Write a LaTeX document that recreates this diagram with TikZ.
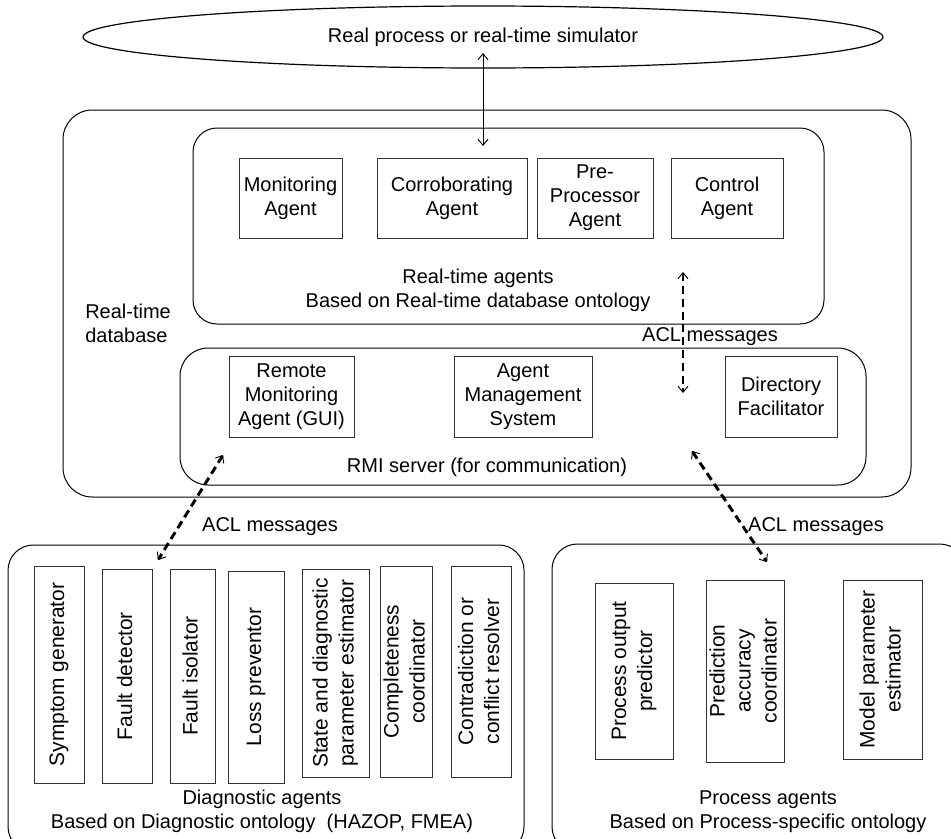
\documentclass[tikz,border=0pt]{standalone}
\usepackage{fontspec}
\usepackage{graphicx}
\setmainfont{Liberation Sans}
\usetikzlibrary{arrows.meta,shapes.geometric}
\newcommand\VertLab[1]{\rotatebox{90}{\fontsize{15.7}{19.5}\selectfont\begin{tabular}{@{}c@{}}#1\end{tabular}}}
\tikzset{
  tipA/.tip={Straight Barb[length=4.5pt,width=7.5pt,line width=0.7pt]},
  txt/.style={font=\fontsize{15}{18}\selectfont, align=center, inner sep=0pt},
  spanbox/.style n args={4}{minimum width={(#3-#1)*0.75pt}, minimum height={(#4-#2)*0.75pt}, at={({(#1+#3)/2},{(#2+#4)/2})}, anchor=center},
  agent/.style={txt, draw=black!80, line width=0.7pt, inner sep=0pt},
  group/.style={draw=black, line width=0.75pt, inner sep=0pt},
  link/.style={line width=0.75pt, tipA-tipA},
  acl/.style={line width=2.2pt, dash pattern=on 6pt off 3.6pt, tipA-tipA}
}
\begin{document}
\begin{tikzpicture}[x=0.75pt,y=-0.75pt]
\useasboundingbox (0,0) rectangle (951,839);
\clip (0,0) rectangle (951,839);

% simulator
\node[txt, draw, ellipse, line width=0.9pt, minimum width=600pt, minimum height=46.5pt] (sim) at (483,37) {Real process or real-time simulator};

% real-time database
\node[group, rounded corners=22pt, spanbox={63}{110}{911}{497}] (db) {};
\node[txt, anchor=west, align=left] (dblbl) at (85,323.5) {Real-time\\database};

% real-time agents
\node[group, rounded corners=18pt, spanbox={193}{128}{824}{324}] (rta) {};
\node[txt] (rtalbl) at (478,290.5) {Real-time agents\\Based on Real-time database ontology};
\node[agent, spanbox={239}{158}{342}{238}] (mon) {Monitoring\\Agent};
\node[agent, spanbox={377}{158}{527}{238}] (cor) {Corroborating\\Agent};
\node[agent, spanbox={537}{158}{653}{238}] (pre) {Pre-\\Processor\\Agent};
\node[agent, spanbox={671}{158}{783}{238}] (ctl) {Control\\Agent};

% RMI server
\node[group, rounded corners=21pt, spanbox={180}{348}{866}{485}] (rmi) {};
\node[txt] (rmilbl) at (487,467) {RMI server (for communication)};
\node[agent, spanbox={229}{356}{354}{437}] (rem) {Remote\\Monitoring\\Agent (GUI)};
\node[agent, spanbox={454}{356}{592}{437}] (ams) {Agent\\Management\\System};
\node[agent, spanbox={725}{356}{837}{437}] (df) {Directory\\Facilitator};

% diagnostic agents
\node[group, rounded corners=19pt, spanbox={8}{545}{524}{852}] (diag) {};
\node[txt] (diaglbl) at (262,811.5) {Diagnostic agents\\Based on Diagnostic ontology\ \ (HAZOP, FMEA)};
\node[agent, spanbox={34}{566}{84}{783}] (sg) {\VertLab{Symptom generator}};
\node[agent, spanbox={102}{569}{152}{783}] (fd) {\VertLab{Fault detector}};
\node[agent, spanbox={170}{569}{215}{783}] (fi) {\VertLab{Fault isolator}};
\node[agent, spanbox={228}{571}{284}{783}] (lp) {\VertLab{Loss preventor}};
\node[agent, spanbox={302}{569}{369}{777}] (sd) {\VertLab{State and diagnostic\\parameter estimator}};
\node[agent, spanbox={382}{566}{431}{777}] (cc) {\VertLab{Completeness\\coordinator}};
\node[agent, spanbox={451}{566}{511}{777}] (cr) {\VertLab{Contradiction or\\conflict resolver}};

% process agents
\node[group, rounded corners=19pt, spanbox={552}{544}{965}{852}] (proc) {};
\node[txt] (proclbl) at (768,811.5) {Process agents\\Based on Process-specific ontology};
\node[agent, spanbox={595}{583}{673}{759}] (pop) {\VertLab{Process output\\predictor}};
\node[agent, spanbox={707}{580}{784}{762}] (pac) {\VertLab{Prediction\\accuracy\\coordinator}};
\node[agent, spanbox={843}{580}{922}{759}] (mpe) {\VertLab{Model parameter\\estimator}};

% connectors
\coordinate (s1) at (483,53);
\coordinate (s2) at (483,146);
\draw[link] (s1) -- (s2);

\node[txt] (acl1) at (710,337) {ACL messages};
\coordinate (m1) at (683,272);
\coordinate (m2) at (683,393);
\draw[acl] (m1) -- (m2);

\node[txt] (acl2) at (270,527) {ACL messages};
\coordinate (l1) at (223,455);
\coordinate (l2) at (158,560);
\draw[acl] (l1) -- (l2);

\node[txt] (acl3) at (816,527) {ACL messages};
\coordinate (r1) at (692,451);
\coordinate (r2) at (767,562);
\draw[acl] (r1) -- (r2);
\end{tikzpicture}
\end{document}
